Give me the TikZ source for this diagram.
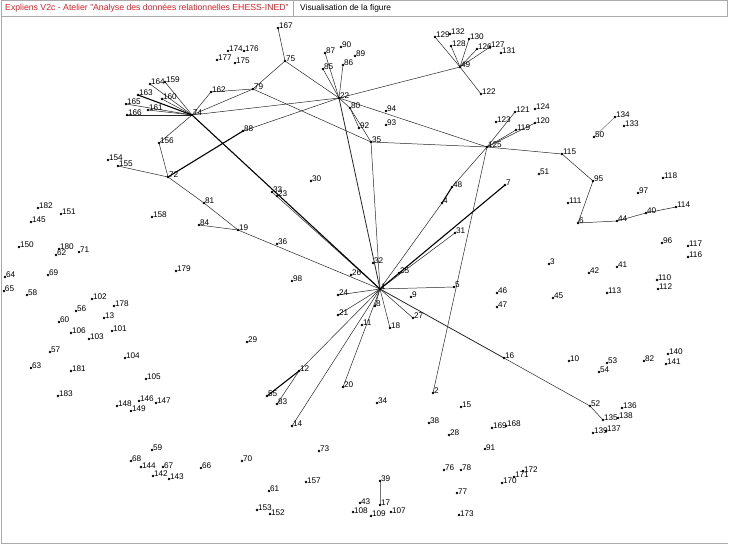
\documentclass[tikz,border=0pt]{standalone}
\usepackage{fontspec}
\setmainfont{Liberation Sans}
\definecolor{hdrred}{RGB}{225,30,35}
\definecolor{framegray}{RGB}{170,170,170}
\begin{document}
\begin{tikzpicture}[x=1pt,y=-1pt,
  lbl/.style={font=\fontsize{8.2}{9}\selectfont, inner sep=0pt, anchor=base west},
  hdr/.style={font=\fontsize{8.7}{10}\selectfont, inner sep=0pt, anchor=base west},
  hdrb/.style={font=\fontsize{8.4}{10}\selectfont, inner sep=0pt, anchor=base west},
  edge/.style={draw=black!85, line width=0.5pt},
  strong/.style={draw=black, line width=1.1pt},
  faint/.style={draw=black!55, line width=0.5pt}]
\useasboundingbox (0,0) rectangle (729,545);
% header and frame
\draw[framegray] (1.5,0.5) rectangle (727.5,16.5);
\draw[framegray] (293,0.5) -- (293,16.5);
\draw[framegray] (1,16.5) -- (1,543.5) -- (728,543.5);
\node[hdr, text=hdrred] (title) at (5,11) {Expliens V2c - Atelier "Analyse des données relationnelles EHESS-INED"};
\node[hdrb] (subtitle) at (300,11) {Visualisation de la figure};
% vertex positions
\foreach \n/\x/\y in {
174/228/51,176/244/51,177/217/60,175/235/63,167/278/28,75/285/61,87/325/53,90/341/47,89/355/56,85/323/69,86/343/65,
162/211/92,79/253/89,164/150/84,159/165/82,163/138/95,160/162/99,165/126/104,161/148/110,166/127/115,74/192/115,
22/339/98,80/350/108,94/386/111,93/386/125,92/359/128,35/371/142,88/243/131,156/159/143,154/108/160,155/118/166,
72/168/177,30/311/181,33/272/192,23/277/196,81/204/203,84/199/225,19/238/230,158/152/217,182/38/208,151/61/214,
145/31/222,150/19/247,180/59/249,62/56/255,71/79/252,64/5/277,69/48/275,179/176/271,65/4/291,58/27/295,102/92/299,
178/114/306,56/76/311,13/104/318,60/59/322,101/112/331,106/71/333,103/89/339,57/50/352,104/125/358,63/31/368,
181/71/371,105/146/379,183/58/396,148/117/406,146/139/401,147/156/403,149/131/411,59/152/450,68/131/461,144/141/467,
67/163/467,142/153/476,143/169/479,66/201/468,70/242/461,29/247/342,36/277/244,98/292/281,32/373/263,26/351/275,
25/399/273,1/380/289,24/338/295,9/411/297,8/375/306,21/338/315,27/413/318,11/362/325,18/390/328,5/454/287,31/455/233,
4/442/203,48/452/187,7/505/185,12/299/371,55/267/396,83/277/404,20/343/387,2/433/393,34/377/403,15/461/407,14/292/426,
38/429/423,28/449/435,73/319/451,91/485/449,76/444/470,78/461/470,157/306/482,39/380/481,61/269/491,77/457/493,
43/360/503,17/380/505,153/257/510,152/270/514,108/353/512,109/371/516,107/391/512,173/459/515,169/492/428,168/506/426,
170/502/483,171/514/477,172/523/471,16/504/358,10/569/361,53/607/363,54/599/372,82/644/361,140/668/354,141/666/364,
52/590/406,136/622/408,135/603/420,138/618/418,139/593/433,137/606/431,46/497/293,47/497/307,45/553/298,3/549/264,
42/589/273,41/617/267,113/607/293,110/657/280,112/658/289,96/662/243,117/688/246,116/688/257,6/578/223,44/617/221,
40/646/213,114/676/207,111/568/203,97/638/193,118/663/178,95/593/181,51/539/174,115/562/154,50/594/137,134/615/117,
133/624/126,125/487/147,123/496/122,119/516/130,120/535/123,121/515/112,124/535/109,122/481/94,49/460/67,129/435/37,
132/450/34,128/451/46,130/469/39,126/477/49,127/490/47,131/501/53}
{\coordinate (v\n) at (\x,\y);}
% edges
\foreach \a/\b in {74/164,74/159,74/160,74/165,74/161,74/166,74/162,162/79,74/79,74/22,74/156,156/72,72/155,88/22,
72/81,81/19,84/19,19/1,75/167,75/79,75/22,79/35,22/87,22/85,22/86,22/80,80/92,80/35,22/49,22/125,35/1,35/125,
49/129,49/128,49/130,49/126,49/127,49/122,125/121,125/119,125/120,115/95,95/6,6/44,44/40,40/114,
125/48,4/1,125/2,1/31,1/5,1/24,1/21,1/8,1/18,1/27,16/52,52/135,1/12,12/83,1/14,1/20,33/1,125/115}
{\draw[edge] (v\a) -- (v\b);}
\foreach \a/\b in {74/1,74/163,72/88,12/55,48/4,1/7}
{\draw[strong] (v\a) -- (v\b);}
\draw[edge, line width=0.8pt] (v22) -- (v1);
\draw[edge, line width=0.8pt] (v1) -- (v16);
\draw[faint] (v134) -- (v50);
\draw[faint] (v39) -- (v17);
% dots and labels
\foreach \n in {174,176,177,175,167,75,87,90,89,85,86,162,79,164,159,163,160,165,161,166,74,22,80,94,93,92,35,88,156,
154,155,72,30,33,23,81,84,19,158,182,151,145,150,180,62,71,64,69,179,65,58,102,178,56,13,60,101,106,103,57,104,63,
181,105,183,148,146,147,149,59,68,144,67,142,143,66,70,29,36,98,32,26,25,1,24,9,8,21,27,11,18,5,31,4,48,7,12,55,83,
20,2,34,15,14,38,28,73,91,76,78,157,39,61,77,43,17,153,152,108,109,107,173,169,168,170,171,172,16,10,53,54,82,140,
141,52,136,135,138,139,137,46,47,45,3,42,41,113,110,112,96,117,116,6,44,40,114,111,97,118,95,51,115,50,134,133,125,
123,119,120,121,124,122,49,129,132,128,130,126,127,131}
{\fill (v\n) circle (1.3pt);
 \node[lbl] (l\n) at ([xshift=0.8pt,yshift=-1pt]v\n) {\n};}
\end{tikzpicture}
\end{document}
